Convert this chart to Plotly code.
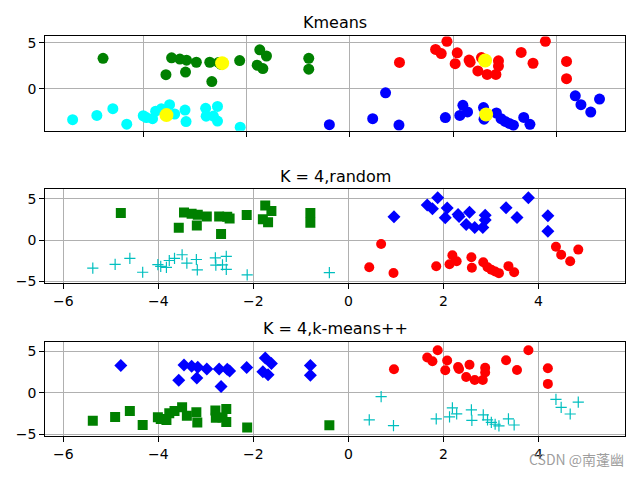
import plotly.graph_objects as go

# ---- data ----
# upper-left group
ul_x = [-4.79, -3.46, -3.30, -3.17, -2.98, -2.72, -2.55, -2.50, -3.57, -3.19, -2.68, -2.14, -1.75, -1.62, -1.80, -1.69, -0.80, -0.80]
ul_y = [3.30, 3.35, 3.22, 3.10, 2.87, 2.87, 2.85, 2.65, 1.52, 1.80, 0.77, 3.05, 4.22, 3.55, 2.55, 2.18, 3.30, 2.12]
# lower-left group
ll_x = [-5.38, -4.91, -4.60, -4.33, -4.01, -3.95, -3.83, -3.77, -3.66, -3.50, -3.40, -3.20, -3.18, -2.80, -2.79, -2.65, -2.57, -2.57, -2.13]
ll_y = [-3.38, -2.91, -2.18, -3.87, -2.95, -3.15, -3.27, -2.45, -2.20, -1.75, -2.76, -2.33, -3.58, -2.14, -3.00, -2.98, -1.94, -3.53, -4.19]
# isolated point
out_x = [-0.40]
out_y = [-3.92]
# upper-right group
ur_x = [0.96, 1.66, 1.77, 1.88, 2.08, 2.04, 2.31, 2.33, 2.55, 2.48, 2.66, 2.83, 2.88, 2.88, 3.32, 3.55, 3.79, 4.20, 4.20]
ur_y = [2.85, 4.27, 3.81, 5.15, 3.90, 2.72, 3.11, 2.88, 3.38, 1.92, 1.54, 1.54, 3.02, 2.46, 3.94, 2.76, 5.15, 2.96, 1.08]
# lower-right group
lr_x = [0.69, 0.44, 0.95, 1.85, 2.19, 2.13, 2.28, 2.59, 2.60, 2.84, 2.93, 3.01, 3.09, 3.17, 3.37, 3.49, 4.37, 4.48, 4.67, 4.84]
lr_y = [-0.45, -3.27, -3.96, -3.15, -1.82, -2.91, -2.53, -2.06, -3.32, -2.65, -3.27, -3.57, -3.79, -3.98, -3.13, -3.88, -0.78, -1.75, -2.55, -1.13]
# Kmeans centroids
cen_x = [-2.48, -3.56, 2.62, 2.64]
cen_y = [2.77, -2.88, 3.06, -2.81]

titles = ["Kmeans", "K = 4,random", "K = 4,k-means++"]
x_ticks = [-6, -4, -2, 0, 2, 4]
y_ticks = [-5, 0, 5]

W, H = 640, 480
FONT = "DejaVu Sans"

fig = go.Figure()


def add(x, y, ax, color, symbol, size, line_w=0):
    xa = "x" if ax == 1 else f"x{ax}"
    ya = "y" if ax == 1 else f"y{ax}"
    fig.add_trace(go.Scatter(
        x=x, y=y, mode="markers", xaxis=xa, yaxis=ya, showlegend=False,
        hoverinfo="skip",
        marker=dict(color=color, symbol=symbol, size=size,
                    line=dict(width=line_w, color=color)),
    ))


# --- subplot 1: Kmeans ---
add(ul_x, ul_y, 1, "#008000", "circle", 11)
add(ll_x, ll_y, 1, "#00ffff", "circle", 11)
add(ur_x, ur_y, 1, "#ff0000", "circle", 11)
add(lr_x + out_x, lr_y + out_y, 1, "#0000ff", "circle", 11)
add(cen_x, cen_y, 1, "#ffff00", "circle", 14)

# --- subplot 2: random ---
add(ul_x, ul_y, 2, "#008000", "square", 10)
add(ll_x + out_x, ll_y + out_y, 2, "#00bfbf", "cross-thin-open", 8, 1.2)
add(ur_x, ur_y, 2, "#0000ff", "diamond", 10)
add(lr_x, lr_y, 2, "#ff0000", "circle", 10)

# --- subplot 3: k-means++ ---
add(ul_x, ul_y, 3, "#0000ff", "diamond", 10)
add(ll_x + out_x, ll_y + out_y, 3, "#008000", "square", 10)
add(ur_x, ur_y, 3, "#ff0000", "circle", 10)
add(lr_x, lr_y, 3, "#00bfbf", "cross-thin-open", 8, 1.2)

# --- axes ---
x_dom = [45.3 / W, 625.3 / W]
panels = [  # (top px, bottom px, xrange, yrange, show x labels)
    (35.0, 131.0, [-5.91, 5.34], [-4.59, 5.68], False),
    (190.3, 286.0, [-6.38, 5.83], [-5.2, 6.19], True),
    (345.3, 441.3, [-6.38, 5.83], [-5.2, 6.19], True),
]
common = dict(
    showgrid=True, gridcolor="#b0b0b0", gridwidth=0.8, zeroline=False,
    showline=True, mirror=True, linecolor="black", linewidth=1,
    ticks="outside", ticklen=5, tickwidth=1, tickcolor="black",
    tickfont=dict(family=FONT, size=14, color="black"),
)
for i, (top, bot, xr, yr, showx) in enumerate(panels, start=1):
    sfx = "" if i == 1 else str(i)
    fig.layout[f"xaxis{sfx}"] = dict(
        domain=x_dom, range=xr, anchor=f"y{sfx}", tickvals=x_ticks,
        ticktext=[str(v).replace("-", "\u2212") for v in x_ticks],
        showticklabels=showx, **common)
    fig.layout[f"yaxis{sfx}"] = dict(
        domain=[1 - bot / H, 1 - top / H], range=yr, anchor=f"x{sfx}",
        tickvals=y_ticks,
        ticktext=[str(v).replace("-", "\u2212") for v in y_ticks],
        **common)

title_y = [21.3, 177.0, 332.0]
annotations = []
for t, ty in zip(titles, title_y):
    annotations.append(dict(
        text=t, x=(x_dom[0] + x_dom[1]) / 2, y=1 - ty / H, xref="paper", yref="paper",
        xanchor="center", yanchor="middle", showarrow=False,
        font=dict(family=FONT, size=16, color="black")))
annotations.append(dict(
    text="CSDN @南蓬幽", x=625.5 / W, y=1 - 464.3 / H, xref="paper", yref="paper",
    xanchor="right", yanchor="middle", showarrow=False,
    font=dict(family="Noto Sans CJK SC", size=14, color="rgba(140,140,140,0.85)")))

fig.update_layout(
    width=W, height=H, margin=dict(l=0, r=0, t=0, b=0),
    paper_bgcolor="white", plot_bgcolor="white",
    annotations=annotations,
)

fig.write_html("out.html", config={"displayModeBar": False},
               post_script="document.body.style.margin='0';")
